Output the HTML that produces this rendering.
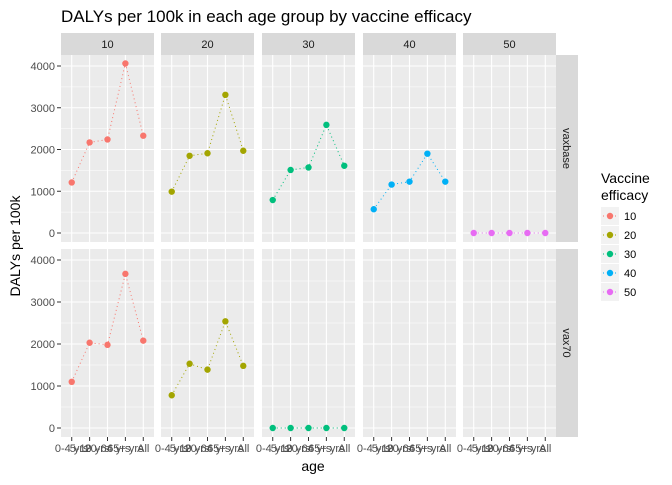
<!DOCTYPE html>
<html><head><meta charset="utf-8"><style>
body{margin:0;background:#fff;font-family:"Liberation Sans",sans-serif}
svg text{font-family:"Liberation Sans",sans-serif}
</style></head><body>
<svg id="c" width="672" height="480" xmlns="http://www.w3.org/2000/svg">
<text x="61" y="22" font-size="17" fill="#000">DALYs per 100k in each age group by vaccine efficacy</text>
<text x="313" y="471" font-size="14" text-anchor="middle">age</text>
<text transform="translate(20,246) rotate(-90)" font-size="14" text-anchor="middle">DALYs per 100k</text>
</svg>
<script>
const categories=["0-4 yrs","5-19 yrs","20-64 yrs","65+ yrs","All"];
const efficacies=["10","20","30","40","50"];
const scenarios=["vaxbase","vax70"];
const yTicks=[0,1000,2000,3000,4000];
const colors=["#F8766D","#A3A500","#00BF7D","#00B0F6","#E76BF3"];
const vaxbase10=[1210,2170,2240,4060,2330];
const vaxbase20=[990,1850,1910,3310,1970];
const vaxbase30=[790,1510,1570,2590,1610];
const vaxbase40=[570,1160,1230,1900,1230];
const vaxbase50=[0,0,0,0,0];
const vax7010=[1100,2030,1980,3670,2080];
const vax7020=[780,1530,1390,2540,1480];
const vax7030=[0,0,0,0,0];
const vax7040=null;
const vax7050=null;
const series=[[vaxbase10,vaxbase20,vaxbase30,vaxbase40,vaxbase50],[vax7010,vax7020,vax7030,vax7040,vax7050]];

const svg=document.getElementById('c');
const NS="http://www.w3.org/2000/svg";
function mk(t,a,p){const e=document.createElementNS(NS,t);for(const k in a)e.setAttribute(k,a[k]);(p||svg).appendChild(e);return e;}
const pL=[61,161,262,363,463],pW=93;
const rows=[{top:55,bot:242,y0:233,y4:66},{top:249,bot:437,y0:428,y4:260}];
function xs(c,i){return pL[c]+(i+0.6)*pW/5.2;}
function ys(r,v){const R=rows[r];return R.y0+(R.y4-R.y0)*v/4000;}
// strips
efficacies.forEach((e,c)=>{
 const s=mk('rect',{x:pL[c],y:33,width:pW,height:22,fill:'#d9d9d9'});
 
 
 const t=mk('text',{x:pL[c]+pW/2,y:48,'font-size':11,'text-anchor':'middle',fill:'#1a1a1a'});t.textContent=e;
 
 
});
scenarios.forEach((s,r)=>{
 const R=rows[r];
 const st=mk('rect',{x:556,y:R.top,width:22,height:R.bot-R.top,fill:'#d9d9d9'});
 
 
 const cy=(R.top+R.bot)/2;
 const t=mk('text',{x:563,y:cy,'font-size':11,'text-anchor':'middle',fill:'#1a1a1a',transform:`rotate(90,563,${cy})`});t.textContent=s;
 
 
 // y ticks
 yTicks.forEach(v=>{const y=ys(r,v);
  mk('line',{x1:57,x2:61,y1:y,y2:y,stroke:'#333','stroke-width':1});
  const tt=mk('text',{x:55,y:y+4,'font-size':11,'text-anchor':'end',fill:'#4d4d4d'});tt.textContent=v;
  
  
 });
 efficacies.forEach((e,c)=>{
  const g=mk('g',{});
  
  
  mk('rect',{x:pL[c],y:R.top,width:pW,height:R.bot-R.top,fill:'#ebebeb'},g);
  for(let k=0;k<yTicks.length-1;k++){const y=ys(r,(yTicks[k]+yTicks[k+1])/2);mk('line',{x1:pL[c],x2:pL[c]+pW,y1:y,y2:y,stroke:'#fff','stroke-width':0.5},g);}
  yTicks.forEach(v=>{const y=ys(r,v);mk('line',{x1:pL[c],x2:pL[c]+pW,y1:y,y2:y,stroke:'#fff','stroke-width':1.1},g);});
  categories.forEach((_,i)=>{const x=xs(c,i);mk('line',{x1:x,x2:x,y1:R.top,y2:R.bot,stroke:'#fff','stroke-width':1.1},g);});
  const d=series[r][c];
  if(d){
   const pts=d.map((v,i)=>xs(c,i)+','+ys(r,v)).join(' ');
   const l=mk('polyline',{points:pts,fill:'none',stroke:colors[c],'stroke-width':1,'stroke-dasharray':'1,3'},g);
   
   
   d.forEach((v,i)=>{const p=mk('circle',{cx:xs(c,i),cy:ys(r,v),r:3.2,fill:colors[c]},g);
    
    });
  }
 });
});
// x axis
efficacies.forEach((e,c)=>{categories.forEach((cat,i)=>{const x=xs(c,i);
 mk('line',{x1:x,x2:x,y1:437,y2:441,stroke:'#333'});
 const t=mk('text',{x:x,y:452,'font-size':11,'text-anchor':'middle',fill:'#4d4d4d'});t.textContent=cat;
 
 
});});
// legend
const lg=mk('g',{});


const t1=mk('text',{x:601,y:183,'font-size':14},lg);t1.textContent='Vaccine';
const t2=mk('text',{x:601,y:200,'font-size':14},lg);t2.textContent='efficacy';
efficacies.forEach((e,k)=>{const y=207+k*19;
 const en=mk('g',{},lg);
 
 
 mk('rect',{x:601,y:y,width:18,height:18,fill:'#f2f2f2'},en);
 mk('line',{x1:603,x2:617,y1:y+9,y2:y+9,stroke:colors[k],'stroke-dasharray':'1,3'},en);
 mk('circle',{cx:610,cy:y+9,r:3.2,fill:colors[k]},en);
 const t=mk('text',{x:624,y:y+13,'font-size':11,fill:'#000'},en);t.textContent=e;
});
</script>
</body></html>
